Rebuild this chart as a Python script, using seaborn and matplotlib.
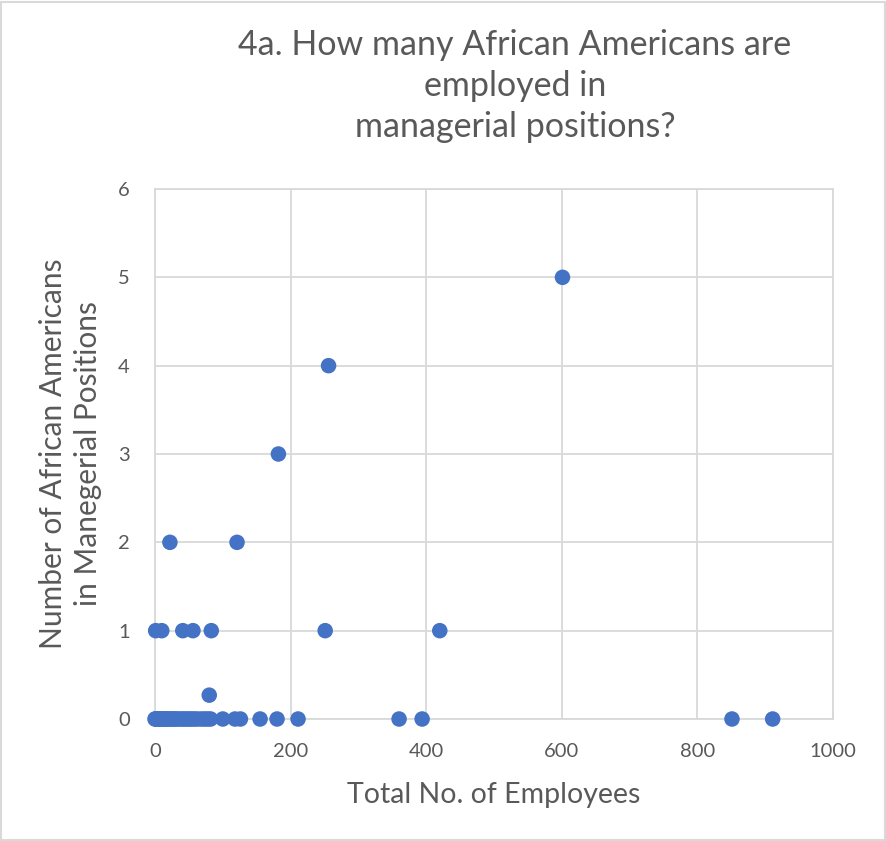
import matplotlib
matplotlib.use("Agg")
import matplotlib.pyplot as plt
import seaborn as sns
import pandas as pd
from matplotlib.patches import Rectangle

# Total employees per company and African Americans in managerial roles
total_employees = [
    0, 1, 2, 3, 5, 6, 8, 10, 12, 14, 16, 18, 20, 23, 25, 28, 30, 33, 36, 40,
    43, 46, 50, 53, 57, 60, 65, 70, 74, 78, 82, 100, 118, 126, 155, 180, 211,
    360, 394, 851, 911,
    80,
    1, 10, 41, 56, 83, 251, 420,
    22, 121,
    182,
    256,
    601,
]
managers_african_american = [
    0, 0, 0, 0, 0, 0, 0, 0, 0, 0, 0, 0, 0, 0, 0, 0, 0, 0, 0, 0,
    0, 0, 0, 0, 0, 0, 0, 0, 0, 0, 0, 0, 0, 0, 0, 0, 0,
    0, 0, 0, 0,
    0.27,
    1, 1, 1, 1, 1, 1, 1,
    2, 2,
    3,
    4,
    5,
]

x_ticks = [0, 200, 400, 600, 800, 1000]
y_ticks = [0, 1, 2, 3, 4, 5, 6]

df = pd.DataFrame({"employees": total_employees,
                   "managers": managers_african_american})

sns.set_theme(style="white")
plt.rcParams["font.family"] = ["Lato", "DejaVu Sans"]

text_color = "#595959"
grid_color = "#d9d9d9"

fig = plt.figure(figsize=(8.86, 8.41), dpi=100)
ax = fig.add_axes([155 / 886, 1 - 719 / 841, (833 - 155) / 886, (719 - 189) / 841])

sns.scatterplot(data=df, x="employees", y="managers", ax=ax,
                color="#4472C4", s=125, edgecolor="none", zorder=3,
                clip_on=False)

ax.set_xlim(0, 1000)
ax.set_ylim(0, 6)
ax.set_xticks(x_ticks)
ax.set_yticks(y_ticks)
ax.set_xticklabels([str(v) for v in x_ticks])
ax.set_yticklabels([str(v) for v in y_ticks])
ax.tick_params(axis="both", length=0, labelsize=14.5, colors=text_color)
ax.tick_params(axis="x", pad=17)
ax.tick_params(axis="y", pad=18)

ax.grid(True, color=grid_color, linewidth=1.3)
ax.set_axisbelow(True)
for side, spine in ax.spines.items():
    spine.set_color(grid_color)
    spine.set_linewidth(1.3)

ax.set_xlabel("Total No. of Employees", fontsize=20.5, color=text_color,
              labelpad=16)
ax.set_ylabel("Number of African Americans\nin Manegerial Positions",
              fontsize=21.5, color=text_color, labelpad=12, linespacing=1.3)

fig.text(515 / 886, 1 - 86 / 841,
         "4a. How many African Americans are\nemployed in\nmanagerial positions?",
         ha="center", va="center", fontsize=24.5, color=text_color,
         linespacing=1.36)

# Light frame around the whole chart area
fig.patches.append(Rectangle((0.001, 0.001), 0.998, 0.997,
                             transform=fig.transFigure, fill=False,
                             edgecolor=grid_color, linewidth=1.5))

fig.savefig("out.png", dpi=100, facecolor="white")
